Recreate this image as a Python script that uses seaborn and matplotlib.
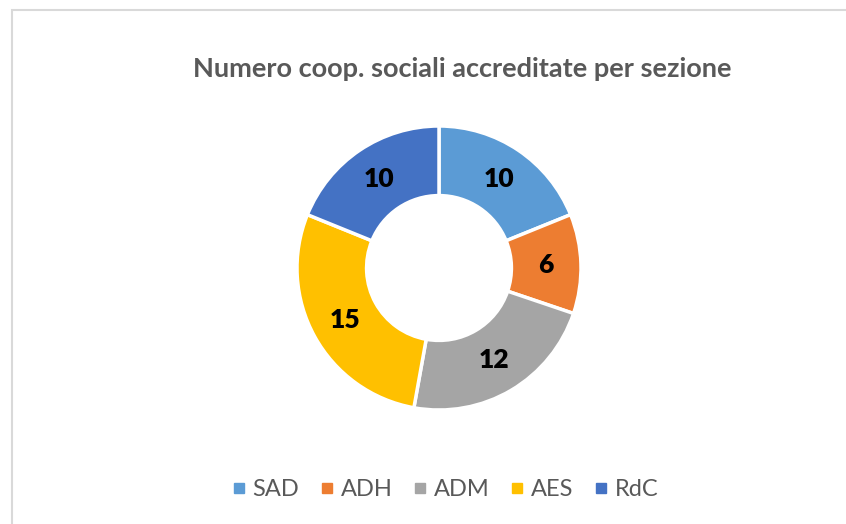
import matplotlib
matplotlib.use("Agg")
import matplotlib.pyplot as plt
import seaborn as sns
import numpy as np
from matplotlib.patches import Rectangle
from matplotlib.lines import Line2D

# dati
sezioni = ["SAD", "ADH", "ADM", "AES", "RdC"]
valori = [10, 6, 12, 15, 10]
colori = ["#5B9BD5", "#ED7D31", "#A5A5A5", "#FFC000", "#4472C4"]
titolo = "Numero coop. sociali accreditate per sezione"

sns.set_theme(style="white")
plt.rcParams['font.family'] = ['Lato', 'DejaVu Sans']

fig = plt.figure(figsize=(8.46, 5.24), dpi=100)
fig.patch.set_facecolor("white")

# cornice grigia (solo sopra e a sinistra visibili)
fig.patches.append(Rectangle((12 / 846, -0.1), 1.2, 1 - 10 / 524 + 0.1,
                             transform=fig.transFigure, fill=False,
                             edgecolor="#D9D9D9", linewidth=1.5))

# ciambella: centro (439,268) px, raggio 142 px
cx, cy, r = 439, 268, 142
ax = fig.add_axes([(cx - r) / 846, (524 - cy - r) / 524, 2 * r / 846, 2 * r / 524])
wedges, _ = ax.pie(valori, colors=colori, startangle=90, counterclock=False,
                   radius=1, wedgeprops=dict(width=0.49, edgecolor="white", linewidth=2.5))
ax.set_xlim(-1, 1)
ax.set_ylim(-1, 1)
ax.axis("off")

# etichette valori al centro dell'anello
tot = sum(valori)
ang = 90
for v in valori:
    mid = ang - v / tot * 360 / 2
    ang -= v / tot * 360
    x = 0.755 * np.cos(np.radians(mid))
    y = 0.755 * np.sin(np.radians(mid))
    ax.text(x, y, str(v), ha="center", va="center", fontsize=19,
            fontweight="heavy", color="black")

fig.text(462 / 846, 1 - 69 / 524, titolo, ha="center", va="center",
         fontsize=19.5, fontweight="bold", color="#595959")

handles = [Line2D([0], [0], marker="s", linestyle="", markersize=6.5,
                  markerfacecolor=c, markeredgecolor=c) for c in colori]
fig.legend(handles, sezioni, loc="center", bbox_to_anchor=(445 / 846, 1 - 490 / 524),
           ncol=5, frameon=False, fontsize=17, labelcolor="#595959",
           handletextpad=0.3, columnspacing=0.85, handlelength=0.6)

fig.savefig("out.png", dpi=100)
